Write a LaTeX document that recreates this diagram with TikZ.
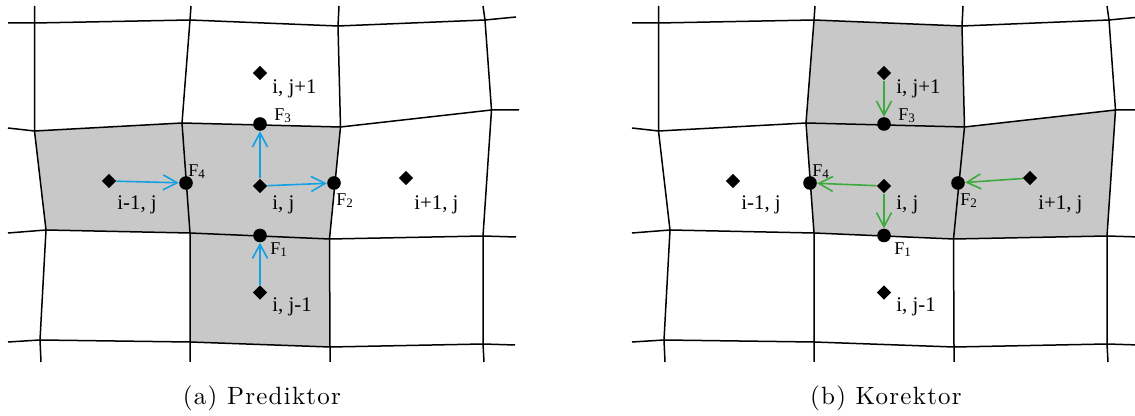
\documentclass[tikz,border=0pt]{standalone}
\usepackage{fontspec}
\newfontfamily\meshfont{Liberation Serif}
\newfontfamily\capfont{lmroman10-regular.otf}[LetterSpace=5]
\usetikzlibrary{arrows.meta,shapes.geometric,backgrounds}
\definecolor{cellgray}{RGB}{200,200,200}
\definecolor{predblue}{RGB}{20,160,225}
\definecolor{corrgreen}{RGB}{60,170,60}
\newcommand{\Fsub}[1]{F\raisebox{-0.6pt}{\fontsize{6.5}{7}\selectfont #1}}

\begin{document}
\begin{tikzpicture}[x=0.5pt, y=-0.5pt,
  mesh/.style={line width=0.75pt, line join=round},
  cell/.style={fill=cellgray},
  face/.style={circle, fill=black, inner sep=0pt, minimum size=6.8pt},
  centre/.style={diamond, fill=black, inner sep=0pt, minimum size=7.2pt},
  lbl/.style={anchor=base west, inner sep=0pt, font=\meshfont\fontsize{10.4}{12}\selectfont},
  flbl/.style={anchor=base west, inner sep=0pt, font=\meshfont\fontsize{9}{11}\selectfont},
  flux/.style={-{Straight Barb[length=7pt, width=7.5pt]}, line width=0.8pt},
  caption/.style={anchor=base, inner sep=0pt, font=\capfont\fontsize{12.5}{14}\selectfont}
]
\useasboundingbox (0,0) rectangle (1135,416);

% same mesh in both panels, (b) shifted to the right
\foreach \p/\dx/\name in {a/0/Prediktor, b/312/Korektor}{
  \begin{scope}[xshift=\dx pt, name prefix=\p-]
    \coordinate (g10) at (34.5,6);  \coordinate (g20) at (191,6);
    \coordinate (g30) at (339,6);   \coordinate (g40) at (483,6);
    \coordinate (g01) at (8,23);    \coordinate (g11) at (34.5,23);
    \coordinate (g21) at (190,20);  \coordinate (g31) at (338,26);
    \coordinate (g41) at (485,20);  \coordinate (g51) at (516,17);
    \coordinate (g02) at (8,128);   \coordinate (g12) at (34.5,131);
    \coordinate (g22) at (182,123); \coordinate (g32) at (340.5,127);
    \coordinate (g42) at (491.5,110); \coordinate (g52) at (519,110);
    \coordinate (g03) at (8,233);   \coordinate (g13) at (46,230);
    \coordinate (g23) at (190,233); \coordinate (g33) at (329.5,239);
    \coordinate (g43) at (483,236); \coordinate (g53) at (516,237);
    \coordinate (g04) at (8,342);   \coordinate (g14) at (40,340);
    \coordinate (g24) at (190,342); \coordinate (g34) at (330,347);
    \coordinate (g44) at (483,344); \coordinate (g54) at (515,345);
    \coordinate (g15) at (41,362);  \coordinate (g25) at (190,362);
    \coordinate (g35) at (330,362); \coordinate (g45) at (484,362);

    \foreach \row in {1,...,4}
      \draw[mesh] (g0\row) -- (g1\row) -- (g2\row) -- (g3\row) -- (g4\row) -- (g5\row);
    \foreach \col in {1,...,4}
      \draw[mesh] (g\col0) -- (g\col1) -- (g\col2) -- (g\col3) -- (g\col4) -- (g\col5);

    \node[face] (F1) at (260,235.5) {};
    \node[face] (F2) at (334,183) {};
    \node[face] (F3) at (260,124) {};
    \node[face] (F4) at (186,183) {};
    \node[centre] (ij)  at (260,186) {};
    \node[centre] (ijp) at (260,73) {};
    \node[centre] (ijm) at (260,292.5) {};
    \node[centre] (imj) at (109,181) {};
    \node[centre] (ipj) at (406,178) {};

    \node[flbl] (F1l) at (270,255) {\Fsub{1}};
    \node[flbl] (F2l) at (336,206) {\Fsub{2}};
    \node[flbl] (F3l) at (274,121) {\Fsub{3}};
    \node[flbl] (F4l) at (188,177) {\Fsub{4}};
    \node[lbl] (ijl)  at (272,210) {i, j};
    \node[lbl] (ijpl) at (272,94)  {i, j+1};
    \node[lbl] (ijml) at (272,312) {i, j-1};
    \node[lbl] (imjl) at (117,210) {i-1, j};
    \node[lbl] (ipjl) at (414,210) {i+1, j};

    \node[caption] (cap) at (262,405) {(\p) \name};
  \end{scope}
}

% shaded cells
\begin{scope}[on background layer]
  \fill[cell] (a-g12) -- (a-g22) -- (a-g32) -- (a-g33) -- (a-g34) -- (a-g24)
    -- (a-g23) -- (a-g13) -- cycle;
  \fill[cell] (b-g21) -- (b-g31) -- (b-g32) -- (b-g42) -- (b-g43) -- (b-g33)
    -- (b-g23) -- (b-g22) -- cycle;
\end{scope}

\draw[flux, predblue] (a-imj) -- (a-F4);
\draw[flux, predblue] (a-ij) -- (a-F3);
\draw[flux, predblue] (a-ij) -- (a-F2);
\draw[flux, predblue] (a-ijm) -- (a-F1);

\draw[flux, corrgreen] (b-ijp) -- (b-F3);
\draw[flux, corrgreen] (b-ij) -- (b-F4);
\draw[flux, corrgreen] (b-ij) -- (b-F1);
\draw[flux, corrgreen] (b-ipj) -- (b-F2);
\end{tikzpicture}
\end{document}
